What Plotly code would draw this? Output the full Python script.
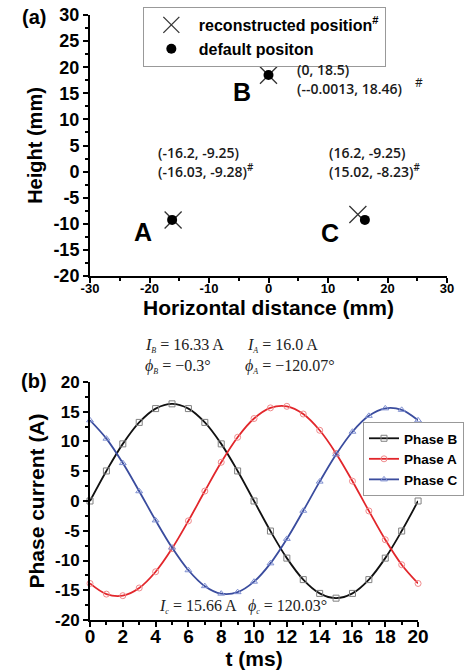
import plotly.graph_objects as go

# ---------------- data: panel (a) ----------------
default_x = [-16.2, 0.0, 16.2]
default_y = [-9.25, 18.5, -9.25]
recon_x = [-16.03, -0.0013, 15.02]
recon_y = [-9.28, 18.46, -8.23]

ax_ticks = [-30, -20, -10, 0, 10, 20, 30]
ax_labels = ["-30", "-20", "-10", "0", "10", "20", "30"]
ay_ticks = [-20, -15, -10, -5, 0, 5, 10, 15, 20, 25, 30]
ay_labels = ["-20", "-15", "-10", "-5", "0", "5", "10", "15", "20", "25", "30"]

# ---------------- data: panel (b) ----------------
t_ms = [0, 1, 2, 3, 4, 5, 6, 7, 8, 9, 10, 11, 12, 13, 14, 15, 16, 17, 18, 19, 20]
phase_b = [0.0, 5.05, 9.60, 13.21, 15.53, 16.33, 15.53, 13.21, 9.60, 5.05, 0.0,
           -5.05, -9.60, -13.21, -15.53, -16.33, -15.53, -13.21, -9.60, -5.05, 0.0]
phase_a = [-13.86, -15.65, -15.91, -14.62, -11.89, -8.0, -3.33, 1.67, 6.51, 10.71, 13.86,
           15.65, 15.91, 14.62, 11.89, 8.0, 3.33, -1.67, -6.51, -10.71, -13.86]
phase_c = [13.56, 10.48, 6.37, 1.64, -3.26, -7.83, -11.64, -14.31, -15.57, -15.32, -13.56,
           -10.48, -6.37, -1.64, 3.26, 7.83, 11.64, 14.31, 15.57, 15.32, 13.56]

bx_ticks = [0, 2, 4, 6, 8, 10, 12, 14, 16, 18, 20]
bx_labels = ["0", "2", "4", "6", "8", "10", "12", "14", "16", "18", "20"]
by_ticks = [-20, -15, -10, -5, 0, 5, 10, 15, 20]
by_labels = ["-20", "-15", "-10", "-5", "0", "5", "10", "15", "20"]

SANS = "Arial, Liberation Sans, sans-serif"
SERIF = "Times New Roman, Liberation Serif, serif"
LBL = "Open Sans, Noto Sans, sans-serif"

fig = go.Figure()

# panel (a)
fig.add_trace(go.Scatter(
    x=recon_x, y=recon_y, mode="markers", name="reconstructed position<sup>#</sup>",
    marker=dict(symbol="x-thin-open", size=17, line=dict(width=1.3, color="#333333"), color="#333333"),
    xaxis="x", yaxis="y", legend="legend", cliponaxis=False))
fig.add_trace(go.Scatter(
    x=default_x, y=default_y, mode="markers", name="default positon",
    marker=dict(symbol="circle", size=10, color="black"),
    xaxis="x", yaxis="y", legend="legend", cliponaxis=False))

# panel (b)
for name, vals, col, mcol, sym in [
        ("Phase B", phase_b, "#111111", "#808080", "square-open"),
        ("Phase A", phase_a, "#e2262b", "#f08a8c", "circle-open"),
        ("Phase C", phase_c, "#3a4c9e", "#7f8fd0", "triangle-up-open")]:
    fig.add_trace(go.Scatter(
        x=t_ms, y=vals, mode="lines+markers", name=name,
        line=dict(color=col, width=1.8, shape="spline"),
        marker=dict(symbol=sym, size=6, color=mcol, line=dict(width=1, color=mcol)),
        xaxis="x2", yaxis="y2", legend="legend2", cliponaxis=False))

axis_common = dict(showline=True, linecolor="black", linewidth=2, ticks="outside",
                   tickwidth=1.5, ticklen=5, tickcolor="black", showgrid=False,
                   zeroline=False, mirror=False, automargin=False)

def minor(step):
    return dict(tickmode="linear", tick0=0, dtick=step, ticks="outside", ticklen=3,
                tickwidth=1.5, tickcolor="black")

def tfont(size):
    return dict(family=SANS, size=size, color="black", weight="bold")

fig.update_layout(
    width=464, height=671,
    margin=dict(l=90, r=17, t=15, b=51, autoexpand=False),
    paper_bgcolor="white", plot_bgcolor="white",
    xaxis=dict(domain=[0, 1], anchor="y", range=[-30, 30], tickmode="array",
               tickvals=ax_ticks, ticktext=ax_labels, tickfont=tfont(13),
               ticklabelstandoff=-6, minor=minor(5),
               title=dict(text="Horizontal distance (mm)", standoff=1, font=tfont(21)),
               **axis_common),
    yaxis=dict(domain=[0.5686, 1], anchor="x", range=[-20, 30], tickmode="array",
               tickvals=ay_ticks, ticktext=ay_labels, tickfont=tfont(18),
               minor=minor(2.5),
               title=dict(text="Height (mm)", standoff=5, font=tfont(20)),
               **axis_common),
    xaxis2=dict(domain=[0, 0.919], anchor="y2", range=[0, 20], tickmode="array",
                tickvals=bx_ticks, ticktext=bx_labels, tickfont=tfont(19),
                ticklabelstandoff=-7, minor=minor(1),
                title=dict(text="t (ms)", standoff=4, font=tfont(21)),
                **axis_common),
    yaxis2=dict(domain=[0, 0.3934], anchor="x2", range=[-20, 20], tickmode="array",
                tickvals=by_ticks, ticktext=by_labels, tickfont=tfont(17),
                minor=minor(2.5),
                title=dict(text="Phase current (A)", standoff=5, font=tfont(21)),
                **axis_common),
    legend=dict(x=0.148, y=(620 - 37) / 605.0, xanchor="left", yanchor="middle",
                bordercolor="#999999", borderwidth=1, bgcolor="white",
                font=dict(family=SANS, size=16, color="black", weight="bold"),
                itemwidth=45, tracegroupgap=0),
    legend2=dict(x=(363 - 90) / 357.0, y=(620 - 459) / 605.0, xanchor="left", yanchor="middle",
                 bordercolor="#999999", borderwidth=1, bgcolor="white",
                 font=dict(family=SANS, size=13.5, color="black", weight="bold"),
                 itemwidth=30, tracegroupgap=0),
    showlegend=True,
)

anns = []
# panel labels
anns.append(dict(text="(a)", x=-0.157, y=(620 - 17) / 605.0, xref="paper", yref="paper",
                 xanchor="center", yanchor="middle", showarrow=False, font=tfont(20)))
anns.append(dict(text="(b)", x=-0.157, y=(620 - 381) / 605.0, xref="paper", yref="paper",
                 xanchor="center", yanchor="middle", showarrow=False, font=tfont(20)))
# point letters
for txt, x, y in [("A", -21.1, -11.6), ("B", -4.4, 15.3), ("C", 10.3, -11.7)]:
    anns.append(dict(text=txt, x=x, y=y, xref="x", yref="y", showarrow=False,
                     font=tfont(25)))
# coordinate texts
coord_font = dict(family=LBL, size=14, color="#1a1a1a", weight=600)
for txt, x, y in [("(-16.2, -9.25)", -18.9, 3.7), ("(-16.03, -9.28)<sup>#</sup>", -18.9, 0.1),
                  ("(16.2, -9.25)", 9.8, 3.7), ("(15.02, -8.23)<sup>#</sup>", 9.8, 0.1),
                  ("(0, 18.5)", 4.4, 19.5), ("(--0.0013, 18.46)", 4.4, 15.9)]:
    anns.append(dict(text=txt, x=x, y=y, xref="x", yref="y", xanchor="left", showarrow=False,
                     font=coord_font))
anns.append(dict(text="#", x=24.3, y=17.0, xref="x", yref="y", xanchor="left", showarrow=False,
                 font=dict(family=LBL, size=12, color="#1a1a1a")))

# equations (paper coords: x=(px-90)/357, y=(620-py)/605)
eq_font = dict(family=SERIF, size=16, color="#222222")
def sub(s):
    return "<sub><span style='font-size:8px'><i>" + s + "</i></span></sub>"
def px(xp, yp):
    return (xp - 90) / 357.0, (620 - yp) / 605.0
for txt, xp, yp in [
        ("<i>I</i>" + sub("B") + " = 16.33 A", 143, 345),
        ("<i>I</i>" + sub("A") + " = 16.0 A", 245, 345),
        ("<i>ϕ</i>" + sub("B") + " = −0.3°", 143, 366),
        ("<i>ϕ</i>" + sub("A") + " = −120.07°", 243, 366),
        ("<i>I</i>" + sub("c") + " = 15.66 A", 157, 606),
        ("<i>ϕ</i>" + sub("c") + " = 120.03°", 246, 606)]:
    xx, yy = px(xp, yp)
    anns.append(dict(text=txt, x=xx, y=yy, xref="paper", yref="paper", xanchor="left",
                     yanchor="middle", showarrow=False, font=eq_font))

fig.update_layout(annotations=anns)
fig.write_html("out.html", config={"displayModeBar": False},
               post_script="document.body.style.margin='0px';")
